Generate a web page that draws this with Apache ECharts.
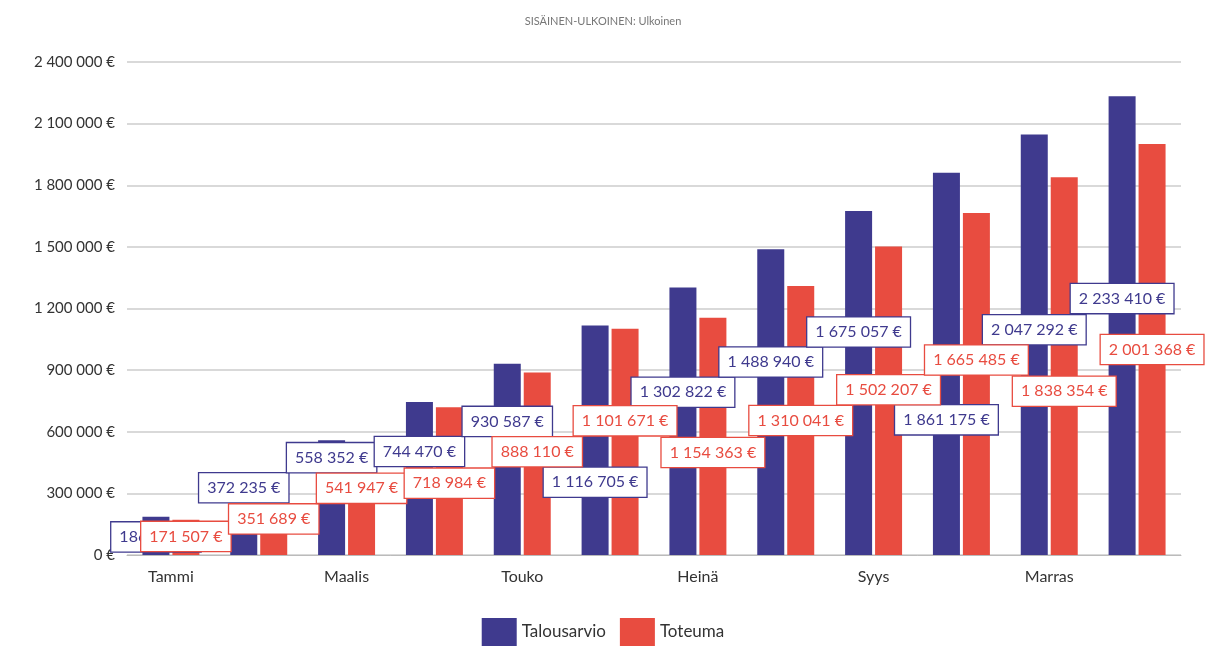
<!DOCTYPE html>
<html><head><meta charset="utf-8">
<script src="https://cdn.jsdelivr.net/npm/echarts@6/dist/echarts.min.js"></script>
<style>html,body{margin:0;padding:0;background:#fff}#c{width:1206px;height:651px}</style>
</head><body><div id="c"></div>
<script>
const months = ['Tammi','Helmi','Maalis','Huhti','Touko','Kesä','Heinä','Elo','Syys','Loka','Marras','Joulu'];
const talousarvio = [186117, 372235, 558352, 744470, 930587, 1116705, 1302822, 1488940, 1675057, 1861175, 2047292, 2233410];
const toteuma = [171507, 351689, 541947, 718984, 888110, 1101671, 1154363, 1310041, 1502207, 1665485, 1838354, 2001368];
const yTicks = [0, 300000, 600000, 900000, 1200000, 1500000, 1800000, 2100000, 2400000];
// label vertical nudges (px) from the bar middle, to mimic the reference's label placement
const blueLabelDy = [1, -29, -40, -27, -38, 42, -29, -40, -51, 56, -15, -27];
const redLabelDy = [-1, 0, -11, 2, -12, -21, 16, 0, -11, -24, 25, 0];

const BLUE = '#3f3a8e', RED = '#e84c40';
const FONT = 'Lato, "Open Sans", sans-serif';
function fmt(v){ return String(Math.round(v)).replace(/\B(?=(\d{3})+(?!\d))/g, ' ') + ' €'; }

function mkData(vals, dys){
  return vals.map((v,i)=>({value:v, label:{offset:[0, dys[i]]}}));
}
function labelCfg(color){
  return {show:true, position:'inside', formatter:p=>fmt(p.value), color:color,
    backgroundColor:'#fff', borderColor:color, borderWidth:1.3, padding:[7,8,6,8],
    fontFamily:FONT, fontSize:16};
}
const chart = echarts.init(document.getElementById('c'));
chart.setOption({
  animation:false,
  title:{text:'SISÄINEN-ULKOINEN: Ulkoinen', left:'center', top:11,
    textStyle:{fontSize:11, fontWeight:'normal', color:'#777', fontFamily:FONT}},
  grid:{left:127, right:25, top:62, bottom:96, containLabel:false},
  legend:{bottom:0, left:'center', itemWidth:35, itemHeight:28, itemGap:14,
    icon:'rect', textStyle:{fontSize:17, color:'#333', fontFamily:FONT},
    data:['Talousarvio','Toteuma']},
  xAxis:{type:'category', data:months,
    axisLine:{lineStyle:{color:'#bbb'}}, axisTick:{show:false},
    axisLabel:{interval:1, color:'#333', fontSize:16, fontFamily:FONT, margin:14}},
  yAxis:{type:'value', min:yTicks[0], max:yTicks[yTicks.length-1], interval:300000,
    axisLine:{show:false}, axisTick:{show:false},
    splitLine:{lineStyle:{color:'#ccc', width:1.5}},
    axisLabel:{formatter:v=>fmt(v), color:'#333', fontSize:15, fontFamily:FONT, margin:12}},
  series:[
    {name:'Talousarvio', type:'bar', data:mkData(talousarvio, blueLabelDy), itemStyle:{color:BLUE},
      barWidth:27, barGap:'11%', label:labelCfg(BLUE)},
    {name:'Toteuma', type:'bar', data:mkData(toteuma, redLabelDy), itemStyle:{color:RED},
      barWidth:27, label:labelCfg(RED)}
  ]
});
</script></body></html>
